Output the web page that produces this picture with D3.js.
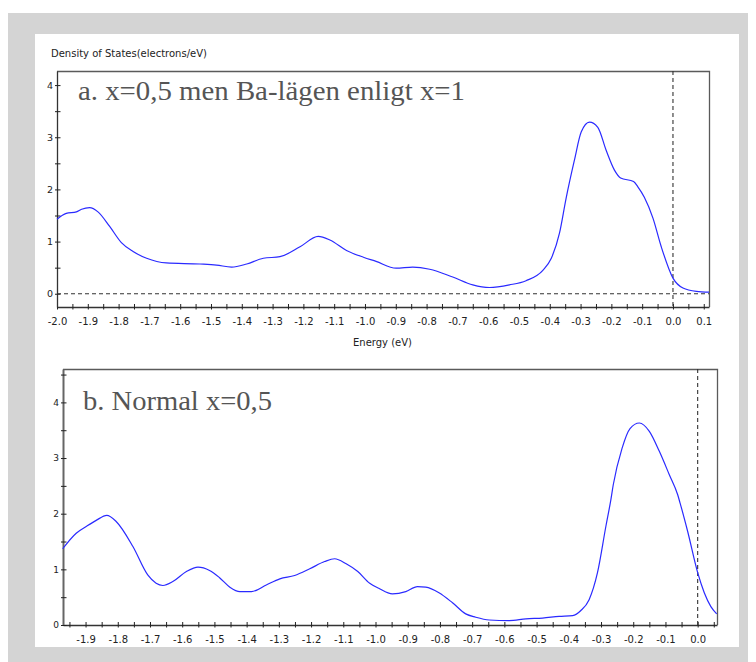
<!DOCTYPE html>
<html>
<head>
<meta charset="utf-8">
<script src="https://cdn.jsdelivr.net/npm/d3@7"></script>
<style>
  body { margin: 0; background: #ffffff; }
</style>
</head>
<body>
<div id="chart"></div>
<script>
// DOS, panel a (x=0,5 men Ba-lägen enligt x=1)
const energyA = [-2.0, -1.97, -1.937, -1.92, -1.894, -1.867, -1.829, -1.791, -1.753, -1.709,
  -1.645, -1.536, -1.482, -1.433, -1.384, -1.33, -1.276, -1.211, -1.152, -1.114,
  -1.06, -1.005, -0.964, -0.899, -0.845, -0.79, -0.715, -0.65, -0.596, -0.531,
  -0.477, -0.4225, -0.395, -0.3685, -0.347, -0.32, -0.298, -0.271, -0.244, -0.217,
  -0.19, -0.17, -0.128, -0.114, -0.093, -0.065, -0.038, 0.0, 0.0325, 0.076, 0.117];
const dosA = [1.43, 1.54, 1.57, 1.62, 1.65, 1.57, 1.29, 0.98, 0.81, 0.68,
  0.59, 0.57, 0.55, 0.51, 0.57, 0.68, 0.71, 0.9, 1.10, 1.03,
  0.83, 0.70, 0.62, 0.49, 0.51, 0.47, 0.32, 0.17, 0.12, 0.17,
  0.25, 0.45, 0.68, 1.16, 1.83, 2.56, 3.10, 3.29, 3.19, 2.75,
  2.37, 2.22, 2.15, 2.05, 1.85, 1.45, 0.90, 0.30, 0.11, 0.045, 0.03];

// DOS, panel b (Normal x=0,5)
const energyB = [-1.971, -1.929, -1.898, -1.867, -1.834, -1.805, -1.753, -1.707, -1.681, -1.66,
  -1.629, -1.587, -1.551, -1.515, -1.484, -1.452, -1.421, -1.385, -1.339, -1.297,
  -1.251, -1.204, -1.158, -1.127, -1.091, -1.055, -1.018, -0.99, -0.9475, -0.906,
  -0.87, -0.844, -0.803, -0.761, -0.72, -0.689, -0.647, -0.585, -0.533, -0.4815,
  -0.43, -0.388, -0.3625, -0.337, -0.311, -0.285, -0.2695, -0.262, -0.235, -0.21,
  -0.181, -0.15, -0.119, -0.088, -0.062, -0.055, -0.031, 0.0, 0.0205, 0.041, 0.059];
const dosB = [1.37, 1.65, 1.77, 1.88, 1.97, 1.86, 1.41, 0.90, 0.75, 0.71,
  0.78, 0.96, 1.04, 0.98, 0.85, 0.68, 0.60, 0.60, 0.72, 0.83,
  0.89, 1.01, 1.14, 1.19, 1.10, 0.96, 0.75, 0.66, 0.56, 0.60,
  0.69, 0.68, 0.58, 0.40, 0.20, 0.14, 0.09, 0.08, 0.11, 0.125,
  0.155, 0.17, 0.26, 0.455, 0.94, 1.77, 2.25, 2.52, 3.17, 3.53,
  3.63, 3.48, 3.12, 2.70, 2.34, 2.2, 1.68, 0.94, 0.58, 0.33, 0.20];

const titleA = "a. x=0,5 men Ba-lägen enligt x=1";
const titleB = "b. Normal x=0,5";
const yLabel = "Density of States(electrons/eV)";
const xLabel = "Energy (eV)";

const svg = d3.select("#chart")
  .append("svg")
  .attr("width", 756)
  .attr("height", 662);

// window frame
svg.append("rect")
  .attr("x", 8).attr("y", 13)
  .attr("width", 740).attr("height", 649)
  .attr("fill", "#d4d4d4");
svg.append("rect")
  .attr("x", 35).attr("y", 34)
  .attr("width", 704).attr("height", 613)
  .attr("fill", "#ffffff");

function drawPanel(cfg) {
  const x = d3.scaleLinear().domain(cfg.xDomain).range([cfg.left, cfg.right]);
  const y = d3.scaleLinear().domain(cfg.yDomain).range([cfg.bottom, cfg.top]);
  const g = svg.append("g");

  // top and right frame
  g.append("path")
    .attr("d", `M${cfg.left},${cfg.top + 0.5}H${cfg.right + 0.5}V${cfg.bottom}`)
    .attr("fill", "none")
    .attr("stroke", "#5a5a5a")
    .attr("stroke-width", 1.3);

  // x ticks every 0.05, labels every 0.1
  const xTicks = d3.range(cfg.xTickFrom, cfg.xTickTo + 1).map(i => i / 20);
  const xAxis = g.append("g")
    .attr("transform", `translate(0,${cfg.bottom})`)
    .call(d3.axisBottom(x)
      .tickValues(xTicks)
      .tickSize(-3)
      .tickSizeOuter(0)
      .tickPadding(11)
      .tickFormat(d => (Math.round(d * 20) % 2 === 0 ? d.toFixed(1) : "")));
  xAxis.selectAll(".tick line").attr("y1", 2.5).attr("stroke", "#222");
  xAxis.select(".domain").attr("stroke", "#333").attr("stroke-width", 1.3);
  xAxis.selectAll("text")
    .attr("fill", "#222")
    .style("font-family", "DejaVu Sans")
    .style("font-size", "10px");

  // y ticks every 0.5
  const yTicks = d3.range(cfg.yTickFrom, cfg.yTickTo + 1).map(i => i / 2);
  const yAxis = g.append("g")
    .attr("transform", `translate(${cfg.left},0)`)
    .call(d3.axisLeft(y)
      .tickValues(yTicks)
      .tickSize(-3.5)
      .tickSizeOuter(0)
      .tickPadding(4)
      .tickFormat(d => (d % 1 === 0 ? d3.format("d")(d) : "")));
  yAxis.selectAll(".tick line").attr("x1", -2).attr("stroke", "#222");
  yAxis.select(".domain").attr("stroke", cfg.yAxisColor).attr("stroke-width", cfg.yAxisWidth);
  yAxis.selectAll("text")
    .attr("fill", "#222")
    .style("font-family", "DejaVu Sans")
    .style("font-size", cfg.yFont);

  // dashed reference lines
  if (cfg.zeroLine) {
    g.append("line")
      .attr("x1", cfg.left).attr("x2", cfg.right)
      .attr("y1", y(0)).attr("y2", y(0))
      .attr("stroke", "#333")
      .attr("stroke-width", 1.1)
      .style("stroke-dasharray", "4, 3");
  }
  g.append("line")
    .attr("x1", x(0)).attr("x2", x(0))
    .attr("y1", cfg.top).attr("y2", cfg.bottom)
    .attr("stroke", "#333")
    .attr("stroke-width", 1.1)
    .style("stroke-dasharray", "4, 3");

  // DOS curve
  const pts = cfg.energy.map((e, i) => [e, cfg.dos[i]]);
  g.append("path")
    .datum(pts)
    .attr("fill", "none")
    .attr("stroke", "#2a2aff")
    .attr("stroke-width", 1.2)
    .attr("d", d3.line()
      .curve(d3.curveMonotoneX)
      .x(d => x(d[0]))
      .y(d => y(d[1])));

  // panel title
  g.append("text")
    .attr("x", cfg.titleX)
    .attr("y", cfg.titleY)
    .attr("textLength", cfg.titleLen)
    .attr("lengthAdjust", "spacingAndGlyphs")
    .attr("fill", "#555")
    .style("font-family", "Liberation Serif")
    .style("font-size", "27px")
    .text(cfg.title);

  return { x: x, y: y };
}

drawPanel({
  energy: energyA, dos: dosA, title: titleA,
  xDomain: [-2.0, 0.117], yDomain: [-0.254, 4.27],
  left: 57, right: 709, top: 71, bottom: 307,
  xTickFrom: -40, xTickTo: 2, yTickFrom: 0, yTickTo: 8,
  yAxisColor: "#333", yAxisWidth: 1.3, yFont: "9.5px",
  zeroLine: true,
  titleX: 78, titleY: 100, titleLen: 387
});

drawPanel({
  energy: energyB, dos: dosB, title: titleB,
  xDomain: [-1.97, 0.06], yDomain: [0, 4.6],
  left: 63, right: 717, top: 369, bottom: 625,
  xTickFrom: -39, xTickTo: 1, yTickFrom: 0, yTickTo: 9,
  yAxisColor: "#666", yAxisWidth: 2, yFont: "9px",
  zeroLine: false,
  titleX: 83, titleY: 410, titleLen: 189
});

// axis labels
svg.append("text")
  .attr("x", 51)
  .attr("y", 57)
  .attr("fill", "#222")
  .style("font-family", "DejaVu Sans")
  .style("font-size", "10px")
  .text(yLabel);

svg.append("text")
  .attr("x", 382.5)
  .attr("y", 346)
  .attr("fill", "#222")
  .style("text-anchor", "middle")
  .style("font-family", "DejaVu Sans")
  .style("font-size", "10px")
  .text(xLabel);
</script>
</body>
</html>
